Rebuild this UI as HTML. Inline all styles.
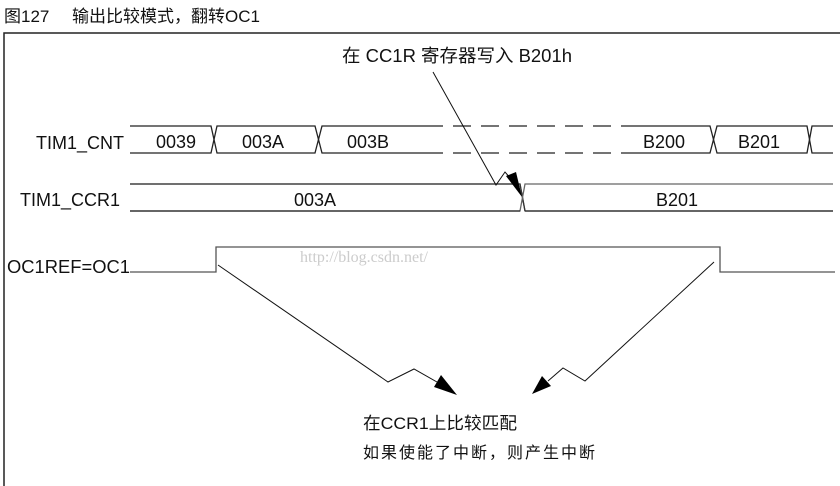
<!DOCTYPE html>
<html><head><meta charset="utf-8"><style>
body{margin:0;background:#fff;width:840px;height:486px;overflow:hidden}
svg{display:block}
text{font-family:"Liberation Sans","Noto Sans CJK SC",sans-serif;fill:#111}
</style></head><body>
<svg width="840" height="486" viewBox="0 0 840 486">
<text x="4" y="22" font-size="17">图127</text>
<text x="72" y="22" font-size="17">输出比较模式，翻转OC1</text>
<polyline points="4,486 4,33 840,33" fill="none" stroke="#222" stroke-width="1.5"/>
<text x="342" y="62" font-size="18" textLength="230" lengthAdjust="spacingAndGlyphs">在 CC1R 寄存器写入 B201h</text>
<g font-size="18">
<text x="124" y="149" text-anchor="end">TIM1_CNT</text>
<text x="120" y="206" text-anchor="end">TIM1_CCR1</text>
<text x="7" y="273" textLength="123" lengthAdjust="spacingAndGlyphs">OC1REF=OC1</text>
</g>
<g fill="none" stroke="#222" stroke-width="1.3">
<polyline points="130,126 211,126 217,153 315,153 322,126 425,126"/>
<polyline points="130,153 211,153 217,126 315,126 322,153 425,153"/>
<line x1="425" y1="126" x2="622" y2="126" stroke-dasharray="18,10"/>
<line x1="425" y1="153" x2="622" y2="153" stroke-dasharray="18,10"/>
<polyline points="622,126 710,126 717,153 807,153 812,126 833,126"/>
<polyline points="622,153 710,153 717,126 807,126 812,153 833,153"/>
<polyline points="130,184 520,184 525,211 833,211" stroke="#666"/>
<polyline points="130,184 520,184 525,211" stroke="#333"/>
<polyline points="130,211 520,211 525,184 833,184" stroke="#666"/>
<polyline points="130,211 520,211" stroke="#222"/>
<line x1="525" y1="211" x2="833" y2="211"/>
<polyline points="130,272 216,272 216,247 720,247 720,272 835,272" stroke="#555"/>
<polyline points="433,72 496,185 505,172 512,180" stroke="#111" stroke-width="1"/>
<polyline points="218,265 388,382 414,369 437,382" stroke="#111" stroke-width="1"/>
<polyline points="714,262 585,381 563,368 548,381" stroke="#111" stroke-width="1"/>
</g>
<g fill="#000">
<polygon points="522,197 506,176 516,172"/>
<polygon points="457,395 434,387 441,375"/>
<polygon points="532,394 542,376 551,386"/>
</g>
<g font-size="18" text-anchor="middle">
<text x="176" y="148">0039</text>
<text x="263" y="148">003A</text>
<text x="368" y="148">003B</text>
<text x="664" y="148">B200</text>
<text x="759" y="148">B201</text>
<text x="315" y="206">003A</text>
<text x="677" y="206">B201</text>
</g>
<text x="300" y="262" font-size="16" style="font-family:'Liberation Serif',serif;fill:#ccc">http://blog.csdn.net/</text>
<text x="363" y="429" font-size="17" textLength="154" lengthAdjust="spacingAndGlyphs">在CCR1上比较匹配</text>
<text x="363" y="458" font-size="16" letter-spacing="2">如果使能了中断，则产生中断</text>
</svg>
</body></html>
